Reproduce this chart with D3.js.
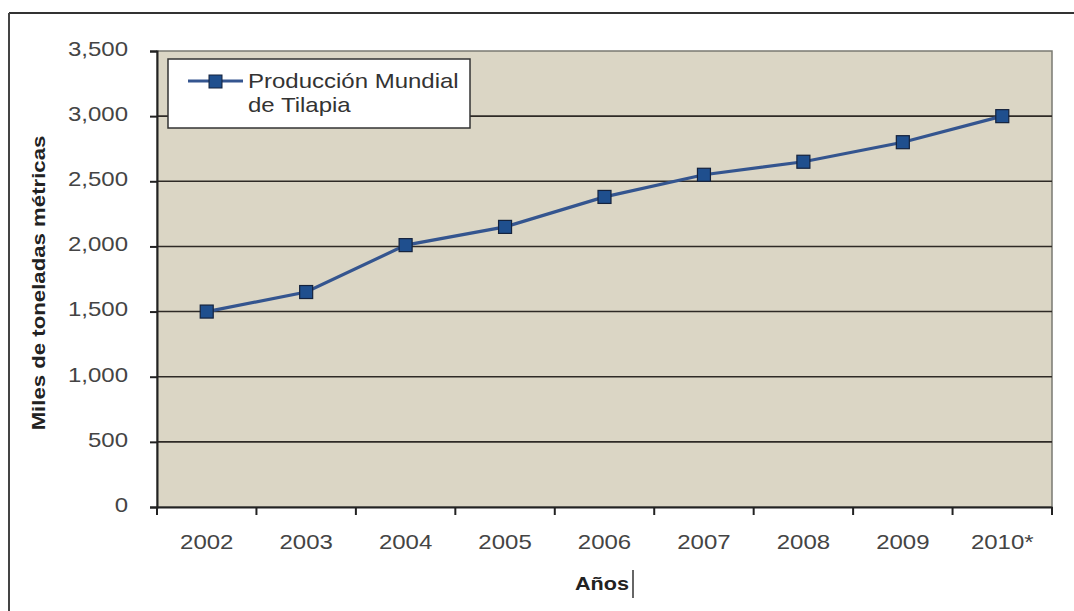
<!DOCTYPE html>
<html><head><meta charset="utf-8">
<script src="https://cdn.jsdelivr.net/npm/d3@7"></script>
<style>body{margin:0;background:#fff}svg{display:block}</style>
</head><body>
<svg id="c" width="1074" height="611"></svg>
<script>
const years = ["2002","2003","2004","2005","2006","2007","2008","2009","2010*"];
const production = [1500,1650,2010,2150,2380,2550,2650,2800,3000];
const yTicks = [0,500,1000,1500,2000,2500,3000,3500];
const seriesName = ["Producción Mundial","de Tilapia"];

const FONT = "Liberation Sans, Arial, sans-serif";
const SX = 1.2; // horizontal stretch of the scanned text
const svg = d3.select("#c");
const L=157,R=1052,T=51,B=507;
const x = d3.scaleBand().domain(years).range([L,R]);
const y = d3.scaleLinear().domain([0,3500]).range([B,T]);

// outer frame
svg.append("line").attr("x1",9).attr("x2",1074).attr("y1",13).attr("y2",13).attr("stroke","#333").attr("stroke-width",2);
svg.append("line").attr("x1",9).attr("x2",9).attr("y1",13).attr("y2",611).attr("stroke","#444").attr("stroke-width",2);

// plot area
svg.append("rect").attr("x",L).attr("y",T).attr("width",R-L).attr("height",B-T)
  .attr("fill","#dbd6c5").attr("stroke","#7a7a72").attr("stroke-width",1.5);

// gridlines
svg.append("g").selectAll("line").data(yTicks.filter(d=>d>0 && d<3500)).join("line")
  .attr("x1",L).attr("x2",R).attr("y1",d=>y(d)).attr("y2",d=>y(d))
  .attr("stroke","#2e2a26").attr("stroke-width",1.6);

// y axis
const ya = svg.append("g").attr("transform",`translate(${L},0)`)
  .call(d3.axisLeft(y).tickValues(yTicks).tickSize(7).tickPadding(29).tickFormat(d3.format(",")));
ya.select(".domain").attr("stroke","#222").attr("stroke-width",2);
ya.selectAll(".tick line").attr("stroke","#222").attr("stroke-width",2);
ya.selectAll("text").attr("x",0).attr("transform",`translate(-29,-2) scale(${SX},1)`)
  .attr("font-family",FONT).attr("font-size",20).attr("fill","#444");

// x axis
const xa = svg.append("g").attr("transform",`translate(0,${B})`)
  .call(d3.axisBottom(x).tickSize(0).tickPadding(28));
xa.select(".domain").attr("stroke","#222").attr("stroke-width",2);
xa.selectAll("text").attr("y",0).attr("transform",`translate(0,28) scale(${SX},1)`)
  .attr("font-family",FONT).attr("font-size",20).attr("fill","#444");
// x tick marks at category boundaries
const bounds = years.map(d=>x(d)).concat([R]);
svg.append("g").selectAll("line").data(bounds).join("line")
  .attr("x1",d=>d).attr("x2",d=>d).attr("y1",B).attr("y2",B+8)
  .attr("stroke","#222").attr("stroke-width",2);

// line
const cx = d=>x(d)+x.bandwidth()/2;
svg.append("path").datum(production.map((v,i)=>[years[i],v]))
  .attr("fill","none").attr("stroke","#34558f").attr("stroke-width",3.2)
  .attr("d",d3.line().x(d=>cx(d[0])).y(d=>y(d[1])));
svg.append("g").selectAll("rect").data(production.map((v,i)=>[years[i],v])).join("rect")
  .attr("x",d=>cx(d[0])-6.5).attr("y",d=>y(d[1])-6.5).attr("width",13).attr("height",13)
  .attr("fill","#1f4f8e").attr("stroke","#14223d").attr("stroke-width",1.2);

// legend
const lg = svg.append("g");
lg.append("rect").attr("x",168).attr("y",59).attr("width",302).attr("height",69)
  .attr("fill","#fff").attr("stroke","#333").attr("stroke-width",1.5);
lg.append("line").attr("x1",188).attr("x2",243).attr("y1",81).attr("y2",81).attr("stroke","#34558f").attr("stroke-width",3.2);
lg.append("rect").attr("x",209).attr("y",75).attr("width",13).attr("height",13).attr("fill","#1f4f8e").attr("stroke","#14223d");
lg.selectAll("text").data(seriesName).join("text")
  .attr("transform",(d,i)=>`translate(248,${88+i*24}) scale(${SX},1)`).text(d=>d)
  .attr("font-family",FONT).attr("font-size",20).attr("fill","#333");

// axis titles
svg.append("text").attr("transform",`translate(45,283) rotate(-90) scale(${SX},1)`).attr("text-anchor","middle")
  .attr("font-family",FONT).attr("font-size",18.5).attr("font-weight","bold").attr("fill","#222")
  .text("Miles de toneladas métricas");
svg.append("text").attr("transform",`translate(602,590) scale(${SX},1)`).attr("text-anchor","middle")
  .attr("font-family",FONT).attr("font-size",18).attr("font-weight","bold").attr("fill","#222")
  .text("Años");
svg.append("line").attr("x1",633).attr("x2",633).attr("y1",570).attr("y2",598).attr("stroke","#333").attr("stroke-width",1.5);
</script>
</body></html>
